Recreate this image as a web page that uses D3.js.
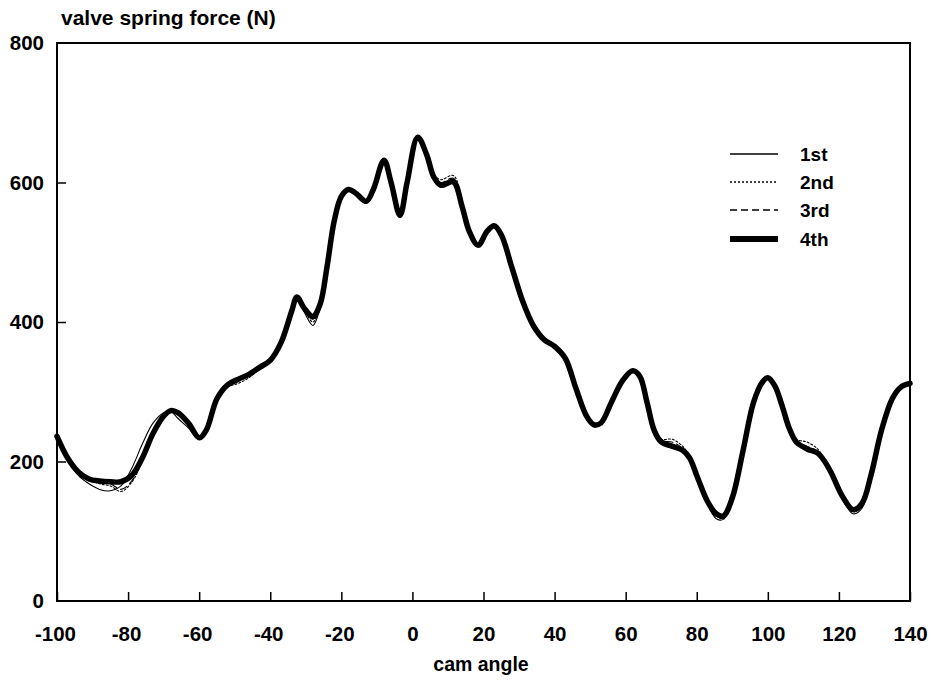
<!DOCTYPE html>
<html>
<head>
<meta charset="utf-8">
<script src="https://cdn.jsdelivr.net/npm/d3@7"></script>
<style>
  html, body { margin: 0; padding: 0; background: #fff; }
  svg { display: block; }
  text { font-family: "Liberation Sans", Arial, Helvetica, sans-serif; font-weight: bold; fill: #000; }
</style>
</head>
<body>
<svg id="chart" width="931" height="680"></svg>
<script>
// Cam angle samples (degrees)
const angles = [-100, -97, -94, -91, -88, -85, -82, -79, -76, -73, -70, -68, -66, -63, -60, -58, -55, -52, -49, -46,
  -43, -40, -37, -34, -32.5, -30.5, -28, -26, -24, -22, -20, -18, -16, -13, -11, -8, -6, -3.5, -1.5, 1.5,
  4, 6, 8, 11.5, 14, 16, 18.5, 21, 23, 25, 28, 31, 34, 37, 40, 43, 46, 49, 51, 53,
  56, 59, 62, 64, 66, 68, 70, 73, 76, 78, 80, 83, 85.5, 87.5, 90, 93, 96, 98.5, 100, 102,
  104, 106, 108, 111, 114, 116, 118, 121, 124, 126.5, 129, 132, 135, 137.5, 140];

// Valve spring force (N) for each measurement run
const run1 = [236, 203, 180, 168, 160, 158, 165, 190, 225, 255, 270, 272, 262, 248, 232, 245, 290, 308, 316, 324,
  333, 345, 372, 418, 438, 415, 395, 420, 478, 545, 580, 588, 584, 570, 588, 630, 600, 550, 598, 663,
  640, 608, 598, 603, 566, 530, 508, 528, 537, 524, 476, 428, 393, 373, 363, 346, 302, 262, 250, 253,
  284, 315, 331, 322, 284, 243, 226, 220, 214, 202, 176, 138, 118, 117, 144, 212, 284, 314, 321, 308,
  278, 246, 226, 216, 210, 198, 178, 146, 125, 133, 175, 243, 290, 308, 312];
const run2 = [234, 204, 184, 174, 168, 165, 157, 170, 200, 238, 263, 273, 270, 256, 236, 247, 292, 307, 312, 320,
  333, 347, 372, 416, 437, 418, 400, 424, 480, 546, 582, 590, 584, 573, 591, 633, 600, 553, 600, 664,
  643, 612, 604, 610, 575, 533, 510, 530, 538, 524, 478, 432, 397, 378, 367, 350, 305, 265, 253, 255,
  286, 316, 330, 323, 287, 248, 232, 232, 222, 207, 181, 142, 122, 120, 146, 214, 285, 314, 321, 309,
  282, 251, 232, 228, 218, 202, 182, 149, 129, 138, 178, 244, 290, 307, 312];
const run3 = [235, 205, 184, 174, 170, 168, 160, 172, 202, 239, 264, 273, 270, 255, 235, 246, 291, 309, 316, 324,
  335, 346, 371, 416, 436, 419, 404, 424, 480, 546, 581, 590, 585, 573, 590, 632, 600, 553, 600, 665,
  642, 610, 600, 606, 570, 532, 510, 530, 538, 525, 478, 431, 396, 377, 368, 352, 306, 266, 253, 255,
  285, 315, 330, 322, 286, 246, 230, 228, 219, 206, 180, 142, 121, 119, 146, 214, 285, 314, 320, 308,
  280, 249, 230, 222, 215, 201, 181, 148, 128, 136, 177, 244, 290, 307, 312];
const run4 = [236, 205, 185, 175, 172, 171, 171, 180, 205, 240, 265, 273, 270, 255, 234, 245, 290, 310, 318, 325,
  335, 345, 370, 415, 436, 420, 408, 425, 480, 545, 580, 590, 585, 573, 590, 632, 600, 553, 600, 665,
  640, 608, 596, 601, 565, 530, 510, 530, 538, 525, 478, 430, 395, 375, 365, 348, 305, 265, 253, 255,
  285, 315, 330, 322, 285, 245, 228, 222, 216, 205, 180, 143, 125, 122, 148, 215, 285, 314, 320, 308,
  280, 248, 228, 218, 212, 200, 182, 150, 131, 140, 180, 245, 290, 307, 312];

const seriesNames = ["1st", "2nd", "3rd", "4th"];
const xTicks = [-100, -80, -60, -40, -20, 0, 20, 40, 60, 80, 100, 120, 140];
const yTicks = [0, 200, 400, 600, 800];

const runs = [run1, run2, run3, run4];
const styles = [
  { width: 1.1, dash: null },
  { width: 1.1, dash: "2,2" },
  { width: 1.1, dash: "7,4" },
  { width: 5.5, dash: null }
];

const svg = d3.select("#chart");
const plotLeft = 57, plotRight = 910, plotTop = 43, plotBottom = 601;

const x = d3.scaleLinear().domain([-100, 140]).range([plotLeft, plotRight]);
const y = d3.scaleLinear().domain([0, 800]).range([plotBottom, plotTop]);

// Curves: thin runs first, thick 4th run on top
const line = d3.line()
  .x((d, i) => x(angles[i]))
  .y(d => y(d))
  .curve(d3.curveCatmullRom.alpha(0.5));

const plot = svg.append("g");
[0, 1, 2, 3].forEach(k => {
  plot.append("path")
    .datum(runs[k])
    .attr("d", line)
    .attr("fill", "none")
    .attr("stroke", "#000")
    .attr("stroke-width", styles[k].width)
    .attr("stroke-linejoin", "round")
    .attr("stroke-linecap", "round")
    .attr("stroke-dasharray", styles[k].dash);
});

// Frame
svg.append("rect")
  .attr("x", plotLeft).attr("y", plotTop)
  .attr("width", plotRight - plotLeft).attr("height", plotBottom - plotTop)
  .attr("fill", "none").attr("stroke", "#000").attr("stroke-width", 2);

// Bottom axis: ticks point inward
const xAxis = d3.axisBottom(x).tickValues(xTicks).tickSize(-9).tickPadding(25)
  .tickFormat(d => String(d));
const gx = svg.append("g").attr("transform", `translate(0,${plotBottom})`).call(xAxis);
gx.select(".domain").remove();
gx.selectAll(".tick line").attr("stroke", "#000").attr("stroke-width", 1.5);
gx.selectAll(".tick text")
  .attr("font-size", 20.5).attr("font-family", "Liberation Sans, Arial, sans-serif")
  .attr("font-weight", "bold").attr("fill", "#000")
  .attr("dx", d => d < 0 ? "-0.1em" : 0);

// Left axis
const yAxis = d3.axisLeft(y).tickValues(yTicks).tickSize(-9).tickPadding(13)
  .tickFormat(d => String(d));
const gy = svg.append("g").attr("transform", `translate(${plotLeft},0)`).call(yAxis);
gy.select(".domain").remove();
gy.selectAll(".tick line").attr("stroke", "#000").attr("stroke-width", 1.5)
  .attr("display", d => (d === 0 || d === 800) ? "none" : null);
gy.selectAll(".tick text")
  .attr("font-size", 20.5).attr("font-family", "Liberation Sans, Arial, sans-serif")
  .attr("font-weight", "bold").attr("fill", "#000");

// Axis titles
svg.append("text").attr("x", 61).attr("y", 25)
  .attr("font-size", 21).text("valve spring force (N)");
svg.append("text").attr("x", 481).attr("y", 671)
  .attr("text-anchor", "middle").attr("font-size", 19.5).text("cam angle");

// Legend
const legendY = [154, 182, 210, 239];
const legend = svg.append("g");
seriesNames.forEach((name, k) => {
  legend.append("line")
    .attr("x1", 730).attr("x2", 778)
    .attr("y1", legendY[k]).attr("y2", legendY[k])
    .attr("stroke", "#000")
    .attr("stroke-width", k === 3 ? 6 : 1.3)
    .attr("stroke-dasharray", styles[k].dash);
  legend.append("text")
    .attr("x", 800).attr("y", legendY[k] + 7)
    .attr("font-size", 19).text(name);
});
</script>
</body>
</html>
